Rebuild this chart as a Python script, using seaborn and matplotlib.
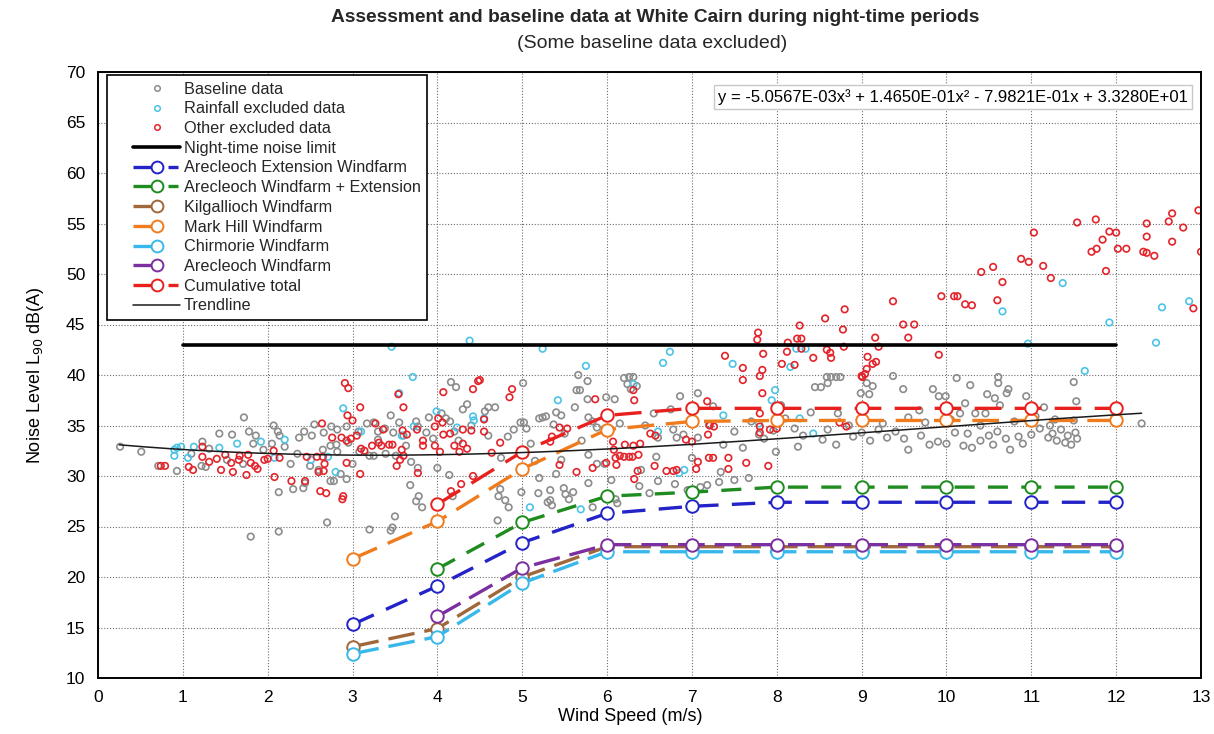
import numpy as np
import pandas as pd
import matplotlib
matplotlib.use("Agg")
import matplotlib.pyplot as plt
import seaborn as sns
from matplotlib.lines import Line2D
from matplotlib.legend_handler import HandlerLine2D

# ---------------- data ----------------
wind_speeds = [3, 4, 5, 6, 7, 8, 9, 10, 11, 12]
nan = np.nan
arecleoch_extension = [15.3, 19.1, 23.4, 26.3, 27.0, 27.4, 27.4, 27.4, 27.4, 27.4]
arecleoch_plus_extension = [nan, 20.8, 25.4, 28.0, 28.4, 28.9, 28.9, 28.9, 28.9, 28.9]
kilgallioch = [13.1, 14.9, 20.0, 23.0, 23.0, 23.0, 23.0, 23.0, 23.0, 23.0]
mark_hill = [21.8, 25.5, 30.7, 34.6, 35.4, 35.5, 35.5, 35.5, 35.5, 35.5]
chirmorie = [12.4, 14.1, 19.4, 22.5, 22.5, 22.5, 22.5, 22.5, 22.5, 22.5]
arecleoch = [nan, 16.1, 20.9, 23.2, 23.2, 23.2, 23.2, 23.2, 23.2, 23.2]
cumulative_total = [nan, 27.2, 32.4, 36.0, 36.7, 36.7, 36.7, 36.7, 36.7, 36.7]

limit_ws = [1, 12]
limit_db = [43, 43]

trend_coeffs = [-5.0567e-03, 1.4650e-01, -7.9821e-01, 3.3280e+01]
trend_range = [0.25, 12.3]

baseline_points = [
    (0.26, 32.9), (0.51, 32.4), (0.71, 31.0), (0.93, 30.5), (1.23, 33.4), (1.72, 35.8), (1.43, 34.2),
    (1.58, 34.1), (1.78, 34.4), (1.86, 34.0), (2.07, 35.0), (2.12, 34.4), (2.14, 34.0), (1.83, 33.2),
    (2.05, 33.2), (1.22, 31.0), (1.27, 30.9), (1.31, 32.7), (1.52, 31.6), (1.71, 31.2), (2.27, 31.2),
    (2.13, 28.4), (1.80, 24.0), (2.13, 24.5), (2.30, 28.7), (1.10, 32.2), (1.95, 32.6), (2.20, 32.9),
    (2.55, 35.1), (2.43, 34.4), (2.37, 33.8), (2.52, 34.0), (2.66, 34.3), (2.75, 34.9), (2.82, 34.6),
    (2.93, 34.9), (3.07, 34.4), (3.17, 35.2), (3.25, 35.3), (3.30, 34.4), (3.38, 34.7), (3.48, 34.3),
    (3.55, 35.3), (3.75, 35.4), (3.77, 34.9), (3.87, 34.3), (3.95, 33.7), (4.10, 35.7), (4.15, 35.4),
    (4.20, 34.4), (4.25, 33.5), (4.16, 39.3), (4.22, 38.8), (2.74, 33.0), (2.81, 33.1), (2.65, 32.6),
    (2.82, 32.4), (3.08, 32.4), (3.20, 32.0), (3.25, 32.0), (3.39, 32.2), (3.51, 32.0), (3.63, 33.0),
    (3.69, 31.4), (3.77, 30.8), (4.00, 30.8), (4.14, 30.1), (2.74, 29.5), (2.78, 29.5), (2.93, 29.7),
    (2.86, 30.2), (2.42, 28.8), (2.44, 29.3), (3.68, 29.1), (3.75, 27.5), (3.78, 28.0), (3.50, 26.0),
    (3.20, 24.7), (3.45, 24.6), (3.47, 24.9), (2.70, 25.4), (3.82, 26.9), (4.18, 28.0), (2.50, 31.0),
    (2.60, 30.6), (3.00, 31.2), (3.30, 33.6), (3.60, 34.0), (4.05, 36.2), (4.30, 36.6), (4.40, 35.0),
    (3.90, 35.8), (4.35, 37.1), (3.45, 36.0), (2.95, 33.3), (2.35, 32.2),
    (5.01, 39.2), (5.66, 40.0), (5.77, 39.4), (5.64, 38.5), (5.68, 38.5), (6.20, 39.7), (6.26, 39.8),
    (6.31, 39.8), (6.24, 39.1), (6.35, 38.9), (6.28, 38.6), (5.77, 37.6), (5.99, 37.8), (6.09, 37.6),
    (5.62, 36.8), (5.40, 36.3), (5.46, 36.0), (4.60, 36.8), (4.68, 36.8), (4.56, 36.4), (5.20, 35.7),
    (4.98, 35.3), (5.02, 35.3), (5.24, 35.8), (5.28, 35.9), (5.37, 35.1), (5.78, 35.8), (5.83, 35.4),
    (5.88, 34.8), (4.83, 33.9), (5.05, 34.7), (5.46, 31.6), (5.78, 32.1), (5.88, 31.2), (5.97, 31.2),
    (5.40, 30.2), (5.20, 29.8), (4.74, 28.7), (4.72, 28.0), (4.80, 27.6), (4.84, 26.9), (4.99, 28.4),
    (5.19, 28.3), (5.33, 28.6), (5.49, 28.8), (5.51, 28.2), (5.60, 28.4), (5.55, 27.7), (5.33, 27.6),
    (5.35, 27.1), (5.30, 27.4), (5.78, 29.3), (5.83, 26.9), (6.10, 27.7), (6.12, 27.3), (6.50, 28.3),
    (6.38, 29.0), (6.60, 29.5), (4.71, 25.6), (6.58, 31.9), (4.60, 34.0), (4.90, 34.6), (5.10, 33.2),
    (5.50, 34.2), (5.70, 33.5), (6.00, 34.3), (6.15, 35.2), (6.45, 35.0), (6.60, 33.8), (6.55, 36.2),
    (4.75, 31.8), (5.15, 31.5), (6.40, 30.6), (6.05, 29.6),
    (6.86, 37.9), (7.07, 38.2), (8.59, 39.8), (8.64, 39.8), (8.70, 39.8), (8.75, 39.8), (8.60, 39.2),
    (8.45, 38.8), (8.52, 38.8), (8.72, 36.2), (8.99, 38.2), (6.78, 34.6), (6.90, 34.1), (7.07, 33.8),
    (6.82, 33.8), (7.37, 33.1), (7.79, 34.1), (7.96, 34.5), (8.21, 34.7), (8.31, 34.0), (8.54, 33.6),
    (8.60, 34.6), (7.99, 32.4), (7.34, 30.4), (7.67, 29.8), (7.32, 29.4), (7.18, 29.1), (7.10, 28.9),
    (6.95, 28.6), (7.50, 29.6), (7.50, 34.4), (7.20, 35.1), (7.70, 35.4), (8.10, 35.7), (8.40, 36.3),
    (8.85, 35.0), (8.90, 33.9), (7.00, 31.8), (7.60, 32.8), (8.25, 32.9), (8.70, 33.1), (6.80, 29.2),
    (7.85, 33.7), (6.75, 36.6), (7.25, 36.9), (8.05, 37.0),
    (9.37, 39.9), (9.13, 38.9), (9.06, 39.2), (9.09, 38.1), (9.49, 38.6), (9.84, 38.6), (9.91, 37.9),
    (9.99, 37.9), (10.12, 39.7), (10.28, 39.0), (10.22, 37.2), (10.48, 38.1), (10.57, 37.7),
    (10.61, 39.8), (10.61, 39.2), (10.71, 38.2), (10.73, 38.6), (10.94, 37.9), (10.63, 37.0),
    (10.46, 36.2), (10.34, 36.2), (10.16, 36.2), (9.68, 36.5), (9.55, 35.8), (9.00, 34.3), (9.10, 33.5),
    (9.20, 34.6), (9.30, 33.8), (9.40, 34.4), (9.50, 33.7), (9.55, 32.6), (9.70, 34.0), (9.80, 33.1),
    (9.90, 33.4), (10.00, 33.2), (10.10, 34.3), (10.20, 33.0), (10.25, 34.2), (10.30, 32.8),
    (10.40, 33.5), (10.50, 34.0), (10.55, 33.1), (10.60, 34.4), (10.70, 33.7), (10.75, 32.6),
    (10.85, 33.9), (10.90, 33.2), (11.00, 34.1), (11.10, 34.7), (11.20, 33.8), (9.25, 35.2),
    (9.75, 35.3), (10.05, 35.6), (10.40, 35.0), (10.80, 35.4), (11.05, 35.9), (11.15, 36.8),
    (11.50, 39.3), (11.53, 37.4), (12.30, 35.2), (11.22, 35.0), (11.25, 34.2), (11.30, 33.5),
    (11.35, 34.6), (11.40, 33.3), (11.43, 34.0), (11.47, 33.1), (11.50, 35.5), (11.52, 34.3),
    (11.54, 33.7), (11.28, 35.6),
]

rainfall_points = [
    (0.90, 32.6), (0.93, 32.8), (0.90, 32.0), (0.98, 32.9), (1.06, 31.8), (1.13, 32.9), (1.43, 32.8),
    (1.64, 33.2), (1.92, 33.4), (2.20, 33.6), (2.08, 31.8),
    (3.46, 42.8), (4.38, 43.4), (3.71, 39.8), (2.89, 36.7), (3.55, 38.2), (3.99, 36.4), (4.42, 35.9),
    (3.10, 34.4), (3.72, 34.9), (3.58, 34.0), (2.80, 30.4), (2.71, 31.9), (2.51, 31.6), (4.23, 34.8),
    (4.43, 35.5),
    (5.24, 42.6), (5.75, 40.9), (5.42, 37.5), (6.74, 42.3), (6.66, 41.2), (6.31, 39.1), (4.55, 35.7),
    (5.09, 26.9), (6.60, 34.4), (5.69, 26.7),
    (7.48, 41.1), (8.23, 42.6), (8.34, 42.6), (8.16, 40.8), (7.98, 38.5), (7.94, 37.5), (7.37, 36.0),
    (7.79, 35.2), (8.27, 35.7), (8.43, 34.2), (6.91, 30.6), (6.85, 30.3),
    (10.66, 46.3), (10.96, 43.1), (11.37, 49.1), (12.54, 46.7), (12.86, 47.3), (11.92, 45.2),
    (12.47, 43.2), (11.63, 40.4),
]

other_points = [
    (0.74, 31.0), (0.79, 31.0), (1.07, 30.9), (1.12, 30.6), (1.23, 32.9), (1.23, 31.9), (1.31, 31.4),
    (1.40, 31.7), (1.45, 30.6), (1.50, 32.1), (1.57, 31.3), (1.59, 30.4), (1.66, 31.6), (1.67, 32.0),
    (1.75, 30.1), (1.77, 32.1), (1.80, 31.3), (1.85, 31.0), (1.88, 30.7), (1.96, 31.6), (2.00, 31.7),
    (2.08, 29.9), (2.14, 31.8), (2.28, 29.5), (2.07, 32.5),
    (2.91, 39.2), (2.95, 38.7), (3.54, 38.1), (4.07, 38.3), (4.48, 39.4), (4.42, 38.6), (3.09, 36.8),
    (3.60, 36.8), (2.64, 35.2), (2.94, 36.0), (3.00, 35.5), (4.01, 35.7), (4.06, 35.3), (3.27, 35.2),
    (3.36, 34.6), (3.59, 34.5), (3.64, 34.1), (3.76, 34.6), (3.97, 34.9), (4.07, 34.1), (4.15, 34.2),
    (4.30, 34.6), (4.40, 34.5), (2.76, 33.8), (2.87, 33.8), (2.93, 33.5), (2.98, 33.7), (3.05, 34.0),
    (3.10, 32.7), (3.14, 32.5), (3.23, 33.0), (3.31, 33.3), (3.34, 33.0), (3.43, 33.1), (3.47, 33.1),
    (3.58, 32.6), (3.60, 32.0), (3.83, 33.5), (3.83, 33.0), (3.97, 33.0), (4.03, 32.4), (4.20, 33.0),
    (4.26, 32.4), (4.30, 33.2), (4.35, 32.7), (2.46, 31.9), (2.58, 31.9), (2.65, 31.9), (2.67, 31.2),
    (2.66, 30.5), (2.60, 30.4), (2.44, 29.5), (2.69, 28.3), (2.62, 28.5), (2.89, 28.0), (2.88, 27.7),
    (2.93, 31.3), (3.52, 31.0), (3.56, 31.6), (3.77, 30.3), (3.09, 30.2), (4.28, 29.2), (4.42, 30.0),
    (4.16, 28.5),
    (4.88, 38.6), (4.85, 37.8), (5.86, 37.6), (6.32, 37.5), (6.31, 38.5), (4.50, 39.5), (4.55, 35.6),
    (4.55, 34.4), (5.35, 33.9), (5.33, 33.4), (5.44, 34.8), (5.53, 34.7), (6.07, 33.4), (6.31, 33.0),
    (6.39, 33.2), (6.21, 33.1), (6.51, 34.2), (6.57, 34.0), (6.08, 32.6), (6.15, 32.0), (6.20, 31.9),
    (6.26, 31.9), (6.30, 31.9), (6.37, 32.1), (6.10, 31.8), (6.11, 31.1), (5.83, 30.8), (5.99, 31.3),
    (5.44, 31.1), (5.64, 30.4), (6.32, 29.7), (6.36, 30.5), (6.56, 31.0), (4.74, 33.3), (4.64, 32.3),
    (6.70, 30.5),
    (8.80, 46.5), (8.57, 45.6), (8.78, 44.5), (8.27, 44.9), (8.24, 43.6), (8.29, 43.6), (8.13, 43.2),
    (8.12, 42.3), (8.29, 42.6), (8.43, 41.7), (8.59, 42.5), (8.63, 42.2), (8.64, 41.7), (8.06, 41.1),
    (8.21, 41.0), (7.78, 44.2), (7.77, 43.5), (7.84, 42.1), (7.83, 40.5), (7.80, 39.9), (7.60, 40.7),
    (7.60, 39.5), (7.39, 41.9), (7.83, 38.2), (7.18, 37.4), (8.79, 42.8), (9.00, 39.9), (7.80, 36.2),
    (7.21, 35.0), (7.26, 34.9), (7.19, 34.1), (6.93, 33.6), (7.00, 33.4), (7.80, 34.9), (7.80, 34.3),
    (7.92, 34.6), (8.00, 34.7), (8.74, 35.3), (8.82, 34.9), (7.07, 31.4), (7.05, 30.7), (6.82, 30.6),
    (6.78, 30.5), (7.20, 31.8), (7.25, 31.8), (7.43, 31.8), (7.43, 30.7), (7.64, 31.3), (7.90, 31.0),
    (11.03, 54.1), (10.88, 51.5), (10.97, 51.2), (11.14, 50.8), (11.23, 49.6), (10.41, 50.2),
    (10.55, 50.7), (10.66, 49.2), (10.60, 47.4), (9.94, 47.8), (10.09, 47.8), (10.13, 47.8),
    (10.22, 47.0), (10.30, 46.9), (9.37, 47.3), (9.49, 45.0), (9.62, 45.0), (9.55, 43.7), (9.16, 43.7),
    (9.20, 42.8), (9.07, 41.8), (9.17, 41.3), (9.13, 41.1), (9.06, 40.6), (9.04, 40.1), (9.01, 39.8),
    (9.91, 42.0),
    (11.54, 55.1), (11.76, 55.4), (11.92, 54.2), (12.00, 54.1), (11.84, 53.4), (11.71, 52.2),
    (11.77, 52.5), (12.02, 52.5), (12.12, 52.5), (11.88, 50.3), (12.36, 55.0), (12.36, 53.7),
    (12.32, 52.2), (12.36, 52.1), (12.45, 51.8), (12.62, 55.2), (12.66, 56.0), (12.79, 54.6),
    (12.66, 53.2), (12.97, 56.3), (13.00, 52.2), (12.91, 46.6),
]

x_ticks = list(range(0, 14))
y_ticks = list(range(10, 71, 5))

# ---------------- style ----------------
sns.set_theme(style="white")
plt.rcParams["font.family"] = ["Liberation Sans", "DejaVu Sans"]

fig = plt.figure(figsize=(12.14, 7.34), dpi=100)
ax = fig.add_axes([98 / 1214, 1 - 678 / 734, 1103 / 1214, 606 / 734])

scatter_sets = [
    ("Baseline data", baseline_points, "#8c8c8c"),
    ("Rainfall excluded data", rainfall_points, "#4cc3e6"),
    ("Other excluded data", other_points, "#e3242b"),
]
for label, pts, col in scatter_sets:
    df = pd.DataFrame(pts, columns=["ws", "db"])
    sns.scatterplot(data=df, x="ws", y="db", ax=ax, s=22, marker="o", color=col,
                    linewidth=1.2, legend=False, zorder=2)
    pc = ax.collections[-1]
    pc.set_facecolor("none")
    pc.set_edgecolor(col)

# noise limit
sns.lineplot(x=limit_ws, y=limit_db, ax=ax, color="black", linewidth=2.6, zorder=3,
             estimator=None, sort=False)

# trendline (from the chart's fitted coefficients)
tx = np.linspace(trend_range[0], trend_range[1], 200)
ty = np.polyval(trend_coeffs, tx)
sns.lineplot(x=tx, y=ty, ax=ax, color="#1a1a1a", linewidth=1.1, zorder=6,
             estimator=None, sort=False)

# (label, values, colour, plot dash style, legend shows trailing dash)
line_series = [
    ("Arecleoch Extension Windfarm", arecleoch_extension, "#2323c8", (0, (7, 4)), True),
    ("Arecleoch Windfarm + Extension", arecleoch_plus_extension, "#1e8c1e", (0, (6, 4)), True),
    ("Kilgallioch Windfarm", kilgallioch, "#a0673a", (0, (8, 3)), False),
    ("Mark Hill Windfarm", mark_hill, "#f07b1d", (0, (8, 3.5)), False),
    ("Chirmorie Windfarm", chirmorie, "#38b8ea", (0, (8, 3)), False),
    ("Arecleoch Windfarm", arecleoch, "#7b2fa0", (0, (8, 3)), False),
    ("Cumulative total", cumulative_total, "#e8201e", (0, (8, 4)), True),
]
for label, vals, col, ls, _ in line_series:
    df = pd.DataFrame({"ws": wind_speeds, "db": vals}).dropna()
    sns.lineplot(data=df, x="ws", y="db", ax=ax, color=col, linewidth=2.4, linestyle=ls,
                 marker="o", markersize=9, markerfacecolor="white", markeredgecolor=col,
                 markeredgewidth=1.4, estimator=None, sort=False, zorder=5)

# ---------------- axes ----------------
ax.set_xlim(0, 13)
ax.set_ylim(10, 70)
ax.set_xticks(x_ticks)
ax.set_yticks(y_ticks)
ax.tick_params(axis="both", labelsize=12.5, length=5, width=1, direction="out",
               colors="black", pad=4)
ax.grid(True, color="#6e6e6e", linestyle=(0, (1, 1.6)), linewidth=0.8)
ax.set_axisbelow(True)
for sp in ax.spines.values():
    sp.set_color("black")
    sp.set_linewidth(1.4)
ax.set_facecolor("white")

ax.set_xlabel("Wind Speed (m/s)", fontsize=13, color="black")
ax.xaxis.set_label_coords((630 - 98) / 1103, -(708 - 678) / 606)
ax.set_ylabel("Noise Level L$_{90}$ dB(A)", fontsize=13, color="black")
ax.yaxis.set_label_coords(-(98 - 46) / 1103, 0.5)


# legend with left padding inside each handle slot
class PadHandler(HandlerLine2D):
    def create_artists(self, legend, orig_handle, xdescent, ydescent, width, height,
                       fontsize, trans):
        off = 0.30 * width
        return super().create_artists(legend, orig_handle, xdescent - off, ydescent,
                                      width - off, height, fontsize, trans)


handles = []
for label, pts, col in scatter_sets:
    handles.append(Line2D([], [], linestyle="none", marker="o", markersize=4,
                          markerfacecolor="none", markeredgecolor=col, markeredgewidth=1.1,
                          label=label))
handles.append(Line2D([], [], color="black", linewidth=2.6, label="Night-time noise limit"))
for label, vals, col, ls, trailing in line_series:
    hls = (0, (6.6, 3.9, 3.0, 20)) if trailing else (0, (6.6, 30))
    handles.append(Line2D([], [], color=col, linewidth=2.4, linestyle=hls, marker="o",
                          markersize=8.5, markerfacecolor="white", markeredgecolor=col,
                          markeredgewidth=1.4, label=label))
handles.append(Line2D([], [], color="#1a1a1a", linewidth=1.1, label="Trendline"))
leg = ax.legend(handles=handles, loc="upper left", bbox_to_anchor=(0.008, 0.995),
                fontsize=11.7, frameon=True, fancybox=False, edgecolor="black",
                framealpha=1, labelspacing=0.29, handlelength=4.1, handletextpad=0.25,
                borderpad=0.4, borderaxespad=0.0,
                handler_map={Line2D: PadHandler()})
leg.get_frame().set_linewidth(1.2)
leg.set_zorder(10)

# equation box
ax.text((953 - 98) / 1103, (678 - 97) / 606,
        "y = -5.0567E-03x³ + 1.4650E-01x² - 7.9821E-01x + 3.3280E+01",
        transform=ax.transAxes, ha="center", va="center", fontsize=12, color="black",
        bbox=dict(boxstyle="square,pad=0.25", facecolor="white", edgecolor="#c8c8c8",
                  linewidth=1.0), zorder=10)

# titles
fig.text(655 / 1214, 1 - 18 / 734,
         "Assessment and baseline data at White Cairn during night-time periods",
         ha="center", va="center", fontsize=13.8, fontweight="bold")
fig.text(652 / 1214, 1 - 43 / 734, "(Some baseline data excluded)",
         ha="center", va="center", fontsize=14)

fig.savefig("out.png", dpi=100, facecolor="white")
